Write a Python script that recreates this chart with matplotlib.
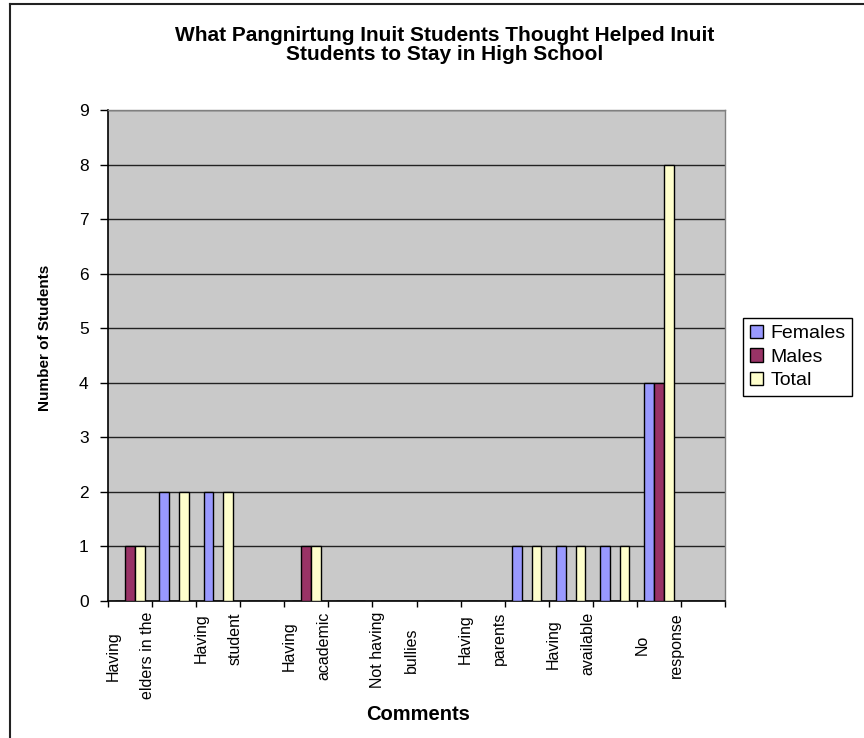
import matplotlib.pyplot as plt
import numpy as np
from matplotlib.lines import Line2D
from matplotlib.patches import Patch

# Data (14 comment categories, only every other one is labelled)
labels = ["Having\nelders in the", "", "Having\nstudent", "", "Having\nacademic", "",
          "Not having\nbullies", "", "Having\nparents", "", "Having\navailable", "",
          "No\nresponse", ""]
females = [0, 2, 2, 0, 0, 0, 0, 0, 0, 1, 1, 1, 4, 0]
males = [1, 0, 0, 0, 1, 0, 0, 0, 0, 0, 0, 0, 4, 0]
total = [1, 2, 2, 0, 1, 0, 0, 0, 0, 1, 1, 1, 8, 0]

series = [("Females", females, "#9999FF"),
          ("Males", males, "#993366"),
          ("Total", total, "#FFFFCC")]

W, H = 864, 738
fig = plt.figure(figsize=(W / 100, H / 100), dpi=100)
ax = fig.add_axes([108 / W, 1 - 601 / H, (725 - 108) / W, (601 - 110) / H])
ax.set_facecolor("#C9C9C9")

x = np.arange(len(labels)) + 0.5
bw = 0.222
for k, (name, vals, col) in enumerate(series):
    ax.bar(x + (k - 1) * bw, vals, width=bw, color=col, edgecolor="black",
           linewidth=1.0, zorder=3, label=name)

ax.set_xlim(0, len(labels))
ax.set_ylim(0, 9)
ax.set_yticks(range(0, 10))
ax.yaxis.grid(True, color="#222222", linewidth=1.0, zorder=1)
ax.set_axisbelow(True)

# category boundaries get the tick marks, labels sit at the centres
ax.set_xticks(np.arange(0, len(labels) + 1))
ax.set_xticklabels([])
ax.set_xticks(x, minor=True)
ax.set_xticklabels(labels, minor=True, rotation=90, ha="center", va="top",
                   multialignment="center", linespacing=2.6,
                   fontsize=11.5, family="Liberation Sans")
ax.tick_params(axis="x", which="major", direction="out", length=4.5, width=1, color="black")
ax.tick_params(axis="x", which="minor", length=0, pad=8)
ax.tick_params(axis="y", direction="out", length=5.5, width=1, pad=8.5, labelsize=12.5)
for t in ax.get_yticklabels():
    t.set_family("Liberation Sans")

for s in ["left", "bottom"]:
    ax.spines[s].set_color("black")
    ax.spines[s].set_linewidth(1.2)
for s in ["top", "right"]:
    ax.spines[s].set_color("#808080")
    ax.spines[s].set_linewidth(1.0)

fig.text(445 / W, 1 - 45 / H,
         "What Pangnirtung Inuit Students Thought Helped Inuit\nStudents to Stay in High School",
         ha="center", va="center", fontsize=15, fontweight="bold",
         family="Liberation Sans", linespacing=1.0)
fig.text(45 / W, 1 - 338 / H, "Number of Students", rotation=90, ha="center", va="center",
         fontsize=11, fontweight="bold", family="Liberation Sans")
fig.text(418 / W, 1 - 715 / H, "Comments", ha="center", va="center",
         fontsize=14.5, fontweight="bold", family="Liberation Sans")

handles = [Patch(facecolor=c, edgecolor="black", linewidth=1.0) for _, _, c in series]
leg = fig.legend(handles, [n for n, _, _ in series], loc="upper left",
                 bbox_to_anchor=(743 / W, 1 - 318 / H), bbox_transform=fig.transFigure,
                 borderaxespad=0, fancybox=False, framealpha=1, edgecolor="black",
                 handlelength=0.7, handleheight=0.7, handletextpad=0.35,
                 labelspacing=0.3, borderpad=0.35, prop={"family": "Liberation Sans", "size": 14})
leg.get_frame().set_linewidth(1.0)

# outer chart border (only top and left visible in the reference)
fig.add_artist(Line2D([10 / W, 1], [1 - 4 / H, 1 - 4 / H], color="#222222", linewidth=1.5))
fig.add_artist(Line2D([10 / W, 10 / W], [0, 1 - 4 / H], color="#222222", linewidth=1.5))

fig.savefig("out.png", dpi=100)
